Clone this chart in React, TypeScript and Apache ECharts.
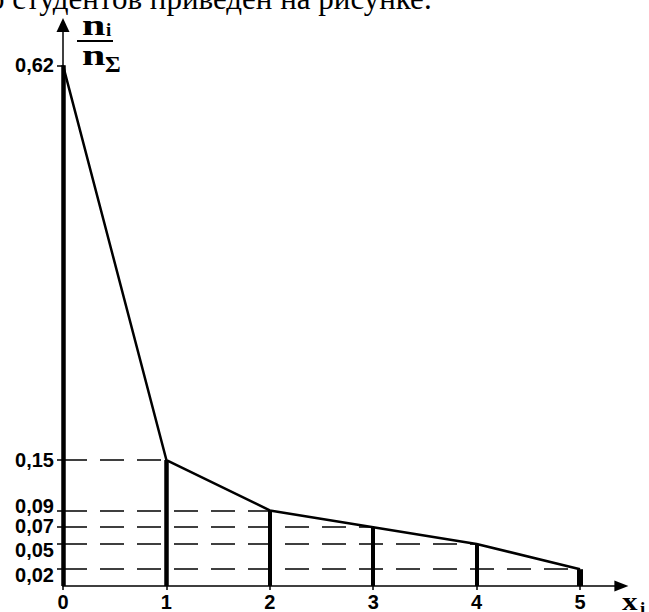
import React, { useEffect, useRef } from 'react';
import * as echarts from 'echarts';

// ---- data ----
const categories = [0, 1, 2, 3, 4, 5];
const frequencies = [0.62, 0.15, 0.09, 0.07, 0.05, 0.02];
const yTickValues = [0.02, 0.05, 0.07, 0.09, 0.15, 0.62];
const xTickValues = [0, 1, 2, 3, 4, 5];
const captionText = 'о студентов приведен на рисунке.';

// ---- styles ----
const stemWidths = [4.5, 4.5, 4, 4, 4, 6];
const labelNudge: Record<number, string> = { 2: 'lo', 5: 'lo', 7: 'up1', 9: 'up4' };

export default function App() {
  const ref = useRef<HTMLDivElement>(null);
  useEffect(() => {
    if (!ref.current) return;
    const chart = echarts.init(ref.current, null, { renderer: 'svg' });
    const points = categories.map((c, i) => [c, frequencies[i]]);
    const stems = categories.map((c, i) => [
      { coord: [c, 0], lineStyle: { width: stemWidths[i], type: 'solid', color: '#000' } },
      { coord: [c, frequencies[i]] },
    ]);
    const dashes = categories.slice(1).map((c, k) => [
      { coord: [0, frequencies[k + 1]], lineStyle: { width: 1.5, type: [24, 13], color: '#000' } },
      { coord: [c, frequencies[k + 1]] },
    ]);
    const labelFont = { fontFamily: 'Liberation Sans', fontWeight: 'bold', fontSize: 20, color: '#000' };
    const yLabelFont = { ...labelFont, lineHeight: 10 };
    // split the y tick labels over two stacked axes so close labels never hide each other
    const groupA = yTickValues.filter((_, i) => i % 2 === 0);
    const groupB = yTickValues.filter((_, i) => i % 2 === 1);
    const yAxisFor = (values: number[], showLine: boolean) => ({
      type: 'value',
      min: 0,
      max: 0.668,
      position: 'left',
      offset: 0,
      splitLine: { show: false },
      axisLine: {
        show: showLine,
        symbol: ['none', 'triangle'],
        symbolSize: [13, 14],
        lineStyle: { color: '#000', width: 1.5 },
      },
      axisTick: { show: true, customValues: values, length: 6, lineStyle: { color: '#000', width: 1.5 } },
      axisLabel: {
        customValues: values,
        margin: 9,
        showMinLabel: true,
        showMaxLabel: true,
        hideOverlap: false,
        ...yLabelFont,
        formatter: (v: number) => {
          const h = Math.round(v * 100);
          const txt = '0,' + String(h).padStart(2, '0');
          const key = labelNudge[h];
          return key ? `{${key}|${txt}}` : txt;
        },
        rich: {
          lo: { ...yLabelFont, padding: [12, 0, 0, 0] },
          up1: { ...yLabelFont, padding: [0, 0, 2, 0] },
          up4: { ...yLabelFont, padding: [0, 0, 8, 0] },
        },
      },
    });
    chart.setOption({
      animation: false,
      backgroundColor: '#fff',
      grid: { left: 63, top: 25, width: 558.4, height: 561 },
      xAxis: {
        type: 'value',
        min: 0,
        max: 5.4,
        splitLine: { show: false },
        axisLine: {
          show: true,
          symbol: ['none', 'triangle'],
          symbolSize: [11, 14],
          lineStyle: { color: '#000', width: 1.5 },
        },
        axisTick: { show: true, customValues: xTickValues, length: 4, lineStyle: { color: '#000', width: 1.5 } },
        axisLabel: {
          customValues: xTickValues,
          margin: 6,
          showMinLabel: true,
          showMaxLabel: true,
          hideOverlap: false,
          ...labelFont,
          formatter: (v: number) => String(Math.round(v)),
        },
      },
      yAxis: [yAxisFor(groupA, true), yAxisFor(groupB, false)],
      series: [
        {
          type: 'line',
          data: points,
          yAxisIndex: 0,
          symbol: 'none',
          z: 5,
          lineStyle: { color: '#000', width: 2.5 },
          markLine: {
            silent: true,
            symbol: ['none', 'none'],
            label: { show: false },
            animation: false,
            data: [...dashes, ...stems],
          },
        },
      ],
      graphic: [
        {
          type: 'text',
          x: -11,
          y: -2,
          style: { text: captionText, font: '31px "Liberation Serif"', fill: '#000', verticalAlign: 'middle' },
        },
        { type: 'text', x: 82, y: 25, scaleX: 1.4, style: { text: 'n', font: 'bold 30px "Liberation Serif"', fill: '#000', verticalAlign: 'middle' } },
        { type: 'text', x: 106, y: 29, style: { text: 'i', font: 'bold 19px "Liberation Serif"', fill: '#000', verticalAlign: 'middle' } },
        { type: 'line', shape: { x1: 77, y1: 41, x2: 113, y2: 41 }, style: { stroke: '#000', lineWidth: 2 } },
        { type: 'text', x: 82, y: 55, scaleX: 1.4, style: { text: 'n', font: 'bold 30px "Liberation Serif"', fill: '#000', verticalAlign: 'middle' } },
        { type: 'text', x: 105, y: 64, style: { text: 'Σ', font: 'bold 24px "Liberation Serif"', fill: '#000', verticalAlign: 'middle' } },
        { type: 'text', x: 622, y: 601, scaleX: 1.2, style: { text: 'x', font: 'bold 26px "Liberation Serif"', fill: '#000', verticalAlign: 'middle' } },
        { type: 'text', x: 640, y: 608, style: { text: 'i', font: 'bold 19px "Liberation Serif"', fill: '#000', verticalAlign: 'middle' } },
      ],
    });
    return () => chart.dispose();
  }, []);
  return <div ref={ref} style={{ position: 'absolute', left: 0, top: 0, width: 649, height: 612 }} />;
}
